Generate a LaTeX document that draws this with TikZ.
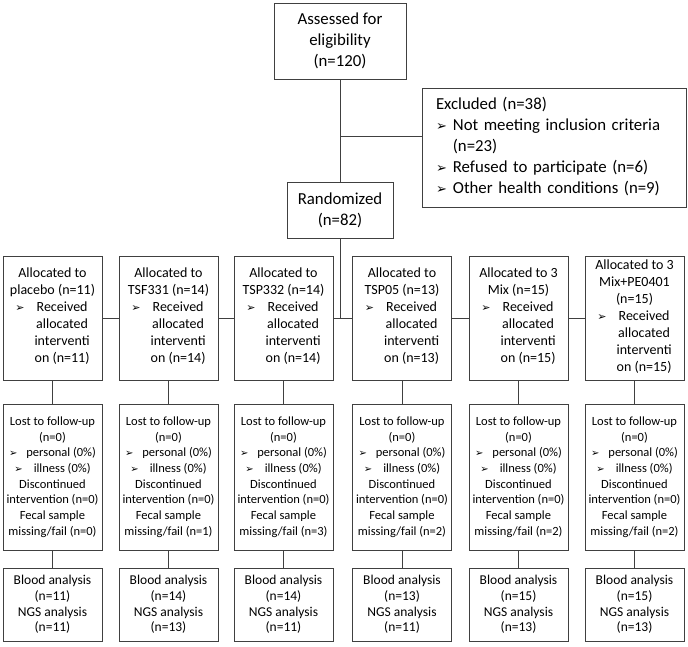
\documentclass[tikz,border=0pt]{standalone}
\usepackage{fontspec}
\setmainfont{Carlito}
\newfontfamily\symfont{DejaVu Sans}
\usetikzlibrary{positioning}
\newcommand{\bul}[1][11]{{\symfont\fontsize{#1}{#1}\selectfont ➢}}
\newcommand{\recvlist}[1]{\begin{tabular}[t]{@{}c@{\hspace{10pt}}c@{}}\bul & Received\\ & allocated\\ & interventi\\ & on (n=#1)\end{tabular}}

\begin{document}
\begin{tikzpicture}[x=1pt,y=-1pt,
  box/.style={draw=black!75,line width=0.9pt,inner sep=1pt,align=center},
  link/.style={draw=black!75,line width=0.9pt},
  big/.style={font=\fontsize{16.8}{21}\selectfont},
  alloc/.style={box,minimum width=99pt,minimum height=124pt,font=\fontsize{14}{17}\selectfont},
  lost/.style={box,minimum width=99pt,minimum height=146pt,font=\fontsize{12.5}{15.7}\selectfont},
  anal/.style={box,minimum width=99pt,minimum height=73pt,font=\fontsize{13.5}{15.7}\selectfont}]
  \useasboundingbox (0,0) rectangle (688,646);

  % enrolment
  \node[box,big,minimum width=132pt,minimum height=76pt] (assess) at (340,41)
    {Assessed for\\eligibility\\(n=120)};
  \node[box,big,minimum height=119pt,text width=236pt,inner xsep=14pt,align=left] (excl) at (554,147.5)
    {\begin{tabular}[t]{@{}l@{\hspace{6pt}}l@{}}
      \multicolumn{2}{@{}l}{Excluded (n=38)}\\
      \bul[13] & Not meeting inclusion criteria\\
               & (n=23)\\
      \bul[13] & Refused to participate (n=6)\\
      \bul[13] & Other health conditions (n=9)
     \end{tabular}};
  \node[box,big,minimum width=106pt,minimum height=56pt] (rand) at (340,210)
    {Randomized\\(n=82)};

  % one column per group
  \foreach \i/\x/\head/\n/\fail/\blood/\ngs in {
      1/52.5/{Allocated to\\placebo (n=11)}/11/0/11/11,
      2/168.5/{Allocated to\\TSF331 (n=14)}/14/1/14/13,
      3/283.5/{Allocated to\\TSP332 (n=14)}/14/3/14/11,
      4/402/{Allocated to\\TSP05 (n=13)}/13/2/13/11,
      5/518.5/{Allocated to 3\\Mix (n=15)}/15/2/15/13,
      6/634.5/{Allocated to 3\\Mix+PE0401\\(n=15)}/15/2/15/13} {
    \node[alloc] (alloc\i) at (\x,318) {\head\\\recvlist{\n}};
    \node[lost] (lost\i) at (\x,477)
      {Lost to follow-up\\(n=0)\\\bul[10]\hspace{9pt}personal (0\%)\\\bul[10]\hspace{11pt}illness (0\%)\\
       Discontinued\\intervention (n=0)\\Fecal sample\\missing/fail (n=\fail)};
    \node[anal] (anal\i) at (\x,604.5)
      {Blood analysis\\(n=\blood)\\NGS analysis\\(n=\ngs)};
    \draw[link] (alloc\i) -- (lost\i);
    \draw[link] (lost\i) -- (anal\i);
  }

  % connectors
  \path (assess.south) ++(0,57) coordinate (branch);
  \draw[link] (assess) -- (rand);
  \draw[link] (branch) -- (branch -| excl.west);
  \draw[link] (rand.south) -- (rand.south |- alloc3.east);
  \foreach \i/\j in {1/2,2/3,3/4,4/5,5/6}
    \draw[link] (alloc\i) -- (alloc\j);
\end{tikzpicture}
\end{document}
